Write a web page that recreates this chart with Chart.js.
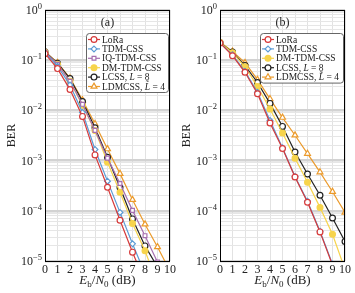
<!DOCTYPE html>
<html>
<head>
<meta charset="utf-8">
<script src="https://cdn.jsdelivr.net/npm/chart.js@4.4.1/dist/chart.umd.min.js"></script>
<style>
  body { margin:0; background:#fff; width:355px; height:293px; position:relative; overflow:hidden; }
  canvas { position:absolute; top:0; }
  #chartA { left:0; }
  #chartB { left:175px; }
</style>
</head>
<body>
<canvas id="chartA" width="178" height="293"></canvas>
<canvas id="chartB" width="178" height="293"></canvas>
<script>
// Eb/N0 (dB)
const snr = [0,1,2,3,4,5,6,7,8,9,10];
const xTicks = [0,1,2,3,4,5,6,7,8,9,10];
const yTicks = [1,1e-1,1e-2,1e-3,1e-4,1e-5];
const yTickExp = ['0','\u22121','\u22122','\u22123','\u22124','\u22125'];

// panel (a) BER
const loraA   = [1.35e-1,6.8e-2,2.6e-2,7.6e-3,1.3e-3,2.95e-4,6.5e-5,1.5e-5,3.8e-6];
const tdmA    = [1.4e-1,7.6e-2,3.2e-2,9.1e-3,1.66e-3,3.9e-4,9.3e-5,2.2e-5,5.6e-6];
const iqTdmA  = [1.45e-1,8.3e-2,3.8e-2,1.32e-2,4.0e-3,1.12e-3,3.5e-4,1.02e-4,3.2e-5,9.5e-6];
const dmTdmA  = [1.45e-1,8.3e-2,3.8e-2,1.26e-2,4.0e-3,9.3e-4,2.35e-4,5.6e-5,1.6e-5,3.5e-6];
const lcssA   = [1.48e-1,8.7e-2,4.3e-2,1.5e-2,4.5e-3,1.17e-3,2.9e-4,6.9e-5,2.0e-5,7.6e-6];
const ldmcssA = [1.48e-1,8.9e-2,4.4e-2,1.6e-2,5.4e-3,1.7e-3,5.5e-4,1.66e-4,5.4e-5,1.9e-5,6.3e-6];

// panel (b) BER
const loraB   = [2.2e-1,1.23e-1,5.75e-2,2.14e-2,5.6e-3,1.74e-3,4.7e-4,1.48e-4,3.8e-5,8.3e-6];
const tdmB    = [2.2e-1,1.28e-1,6.0e-2,2.3e-2,6.3e-3,1.8e-3,4.8e-4,1.55e-4,3.9e-5,8.7e-6];
const dmTdmB  = [2.24e-1,1.41e-1,7.4e-2,3.0e-2,1.07e-2,3.55e-3,1.12e-3,3.7e-4,1.17e-4,3.4e-5,6.8e-6];
const lcssB   = [2.24e-1,1.45e-1,7.8e-2,3.6e-2,1.38e-2,4.8e-3,1.48e-3,5.4e-4,2.04e-4,7.2e-5,2.45e-5];
const ldmcssB = [2.3e-1,1.5e-1,8.9e-2,4.1e-2,1.7e-2,7.2e-3,3.2e-3,1.38e-3,5.9e-4,2.4e-4,9.3e-5];

const serif = '"Liberation Serif","DejaVu Serif",serif';

const styles = {
  'LoRa':            {color:'#d63a3a', point:'circle',   filled:false},
  'TDM-CSS':         {color:'#5b9bd5', point:'rectRot',  filled:false},
  'IQ-TDM-CSS':      {color:'#a66fb0', point:'rect',     filled:false},
  'DM-TDM-CSS':      {color:'#f7d44c', point:'circle',   filled:true},
  'LCSS, L = 8':     {color:'#222222', point:'circle',   filled:false},
  'LDMCSS, L\u0303 = 4': {color:'#eb9a2b', point:'triangle', filled:false}
};

function pts(vals){
  return vals.map((v,i)=>({x:snr[i], y:v}));
}

function ds(label, vals){
  const s = styles[label];
  return {
    label: label,
    data: pts(vals),
    borderColor: s.color,
    backgroundColor: s.color,
    borderWidth: 1.2,
    pointStyle: s.point,
    pointRadius: s.point==='triangle' ? 3.4 : (s.point==='rect' ? 2.7 : 2.9),
    pointBorderWidth: 1.2,
    pointBorderColor: s.color,
    pointBackgroundColor: s.filled ? s.color : '#fff',
    tension: 0
  };
}

function isDecade(v){
  const l = Math.log10(v);
  return Math.abs(l-Math.round(l)) < 1e-6;
}

// frame, y tick labels, x title, panel tag and boxed legend
const decorPlugin = {
  id: 'decor',
  afterDraw(chart, args, opts){
    const ctx = chart.ctx, a = chart.chartArea, ys = chart.scales.y;
    ctx.save();
    ctx.strokeStyle = '#000';
    ctx.lineWidth = 1;
    ctx.strokeRect(Math.round(a.left)+0.5, Math.round(a.top)+0.5, Math.round(a.right-a.left)-1, Math.round(a.bottom-a.top));

    // y tick labels 10^k
    ctx.fillStyle = '#222';
    ctx.textBaseline = 'alphabetic';
    yTicks.forEach((v,i)=>{
      const py = ys.getPixelForValue(v);
      ctx.font = '8.5px ' + serif;
      const ew = ctx.measureText(yTickExp[i]).width;
      const right = a.left - 3;
      ctx.textAlign = 'left';
      ctx.fillText(yTickExp[i], right-ew, py-1);
      ctx.font = '12px ' + serif;
      ctx.textAlign = 'right';
      ctx.fillText('10', right-ew, py+4);
    });

    // x title
    const parts = [
      {t:'E', f:'italic 13px '+serif, dy:0},
      {t:'b', f:'9px '+serif, dy:3},
      {t:'/', f:'13px '+serif, dy:0},
      {t:'N', f:'italic 13px '+serif, dy:0},
      {t:'0', f:'9px '+serif, dy:3},
      {t:' (dB)', f:'13px '+serif, dy:0}
    ];
    let tw = 0;
    parts.forEach(p=>{ ctx.font=p.f; p.w=ctx.measureText(p.t).width; tw+=p.w; });
    let px = (a.left+a.right)/2 - tw/2;
    ctx.textAlign = 'left';
    parts.forEach(p=>{ ctx.font=p.f; ctx.fillText(p.t, px, 284+p.dy); px+=p.w; });

    // panel tag
    ctx.font = '12px ' + serif;
    ctx.textAlign = 'center';
    ctx.textBaseline = 'middle';
    ctx.fillText(opts.tag, (a.left+a.right)/2, 23);

    // legend box
    const L = opts.legend, n = chart.data.datasets.length;
    const h = 12 + (n-1)*L.row;
    ctx.beginPath();
    if (ctx.roundRect) ctx.roundRect(L.x+0.5, L.y+0.5, L.w, h, 3); else ctx.rect(L.x+0.5, L.y+0.5, L.w, h);
    ctx.fillStyle = '#fff';
    ctx.fill();
    ctx.strokeStyle = '#555';
    ctx.lineWidth = 0.9;
    ctx.stroke();
    chart.data.datasets.forEach((d,i)=>{
      const cy = L.y + 6.5 + i*L.row;
      ctx.strokeStyle = d.borderColor;
      ctx.lineWidth = 1.2;
      ctx.beginPath();
      ctx.moveTo(L.x+2, cy); ctx.lineTo(L.x+14, cy);
      ctx.stroke();
      ctx.fillStyle = d.pointBackgroundColor;
      ctx.strokeStyle = d.pointBorderColor;
      Chart.helpers.drawPoint(ctx, {pointStyle:d.pointStyle, radius:d.pointRadius, borderWidth:1.2, rotation:0}, L.x+8, cy);
      ctx.fillStyle = '#222';
      ctx.textAlign = 'left';
      ctx.textBaseline = 'middle';
      const m = d.label.match(/^(.*, )(L\u0303?)( = .*)$/);
      const segs = m ? [[m[1],''],[m[2],'italic '],[m[3],'']] : [[d.label,'']];
      let tx = L.x + 16;
      segs.forEach(s=>{
        ctx.font = s[1] + '9.5px ' + serif;
        ctx.fillText(s[0], tx, cy+0.5);
        tx += ctx.measureText(s[0]).width;
      });
    });
    ctx.restore();
  }
};

function makeChart(id, datasets, tag, legend){
  return new Chart(document.getElementById(id).getContext('2d'), {
    type: 'line',
    data: { datasets: datasets },
    options: {
      responsive: false,
      animation: false,
      devicePixelRatio: 1,
      layout: { padding: {left:0, right:7.5, top:10, bottom:0} },
      scales: {
        x: {
          type: 'linear',
          min: 0, max: 10,
          afterBuildTicks(scale){ scale.ticks = xTicks.map(v=>({value:v})); },
          afterFit(scale){ scale.height = 32; },
          ticks: { autoSkip:false, color:'#222', font:{family:serif, size:12}, padding:2, maxRotation:0 },
          grid: { color:'#e2e2e2', lineWidth:1, drawTicks:false },
          border: { display:false }
        },
        y: {
          type: 'logarithmic',
          min: 1e-5, max: 1,
          afterBuildTicks(scale){
            const t = [];
            for (let e=-5; e<0; e++) for (let s=1; s<10; s++) t.push({value:s*Math.pow(10,e)});
            t.push({value:1});
            scale.ticks = t;
          },
          afterFit(scale){ scale.width = 45; },
          ticks: { display:false },
          title: { display:true, text:'BER', color:'#222', font:{family:serif, size:12}, padding:{top:5, bottom:0} },
          grid: {
            drawTicks: false,
            color: c => isDecade(c.tick.value) ? '#d2d2d2' : '#e6e6e6',
            lineWidth: c => isDecade(c.tick.value) ? 2.5 : 1
          },
          border: { display:false }
        }
      },
      plugins: {
        legend: { display:false },
        tooltip: { enabled:false },
        decor: { tag: tag, legend: legend }
      }
    },
    plugins: [decorPlugin]
  });
}

makeChart('chartA', [
  ds('LoRa', loraA),
  ds('TDM-CSS', tdmA),
  ds('IQ-TDM-CSS', iqTdmA),
  ds('DM-TDM-CSS', dmTdmA),
  ds('LCSS, L = 8', lcssA),
  ds('LDMCSS, L\u0303 = 4', ldmcssA)
], '(a)', {x:86, y:33, w:82, row:9.4});

makeChart('chartB', [
  ds('LoRa', loraB),
  ds('TDM-CSS', tdmB),
  ds('DM-TDM-CSS', dmTdmB),
  ds('LCSS, L = 8', lcssB),
  ds('LDMCSS, L\u0303 = 4', ldmcssB)
], '(b)', {x:85, y:33, w:83, row:9.4});
</script>
</body>
</html>
